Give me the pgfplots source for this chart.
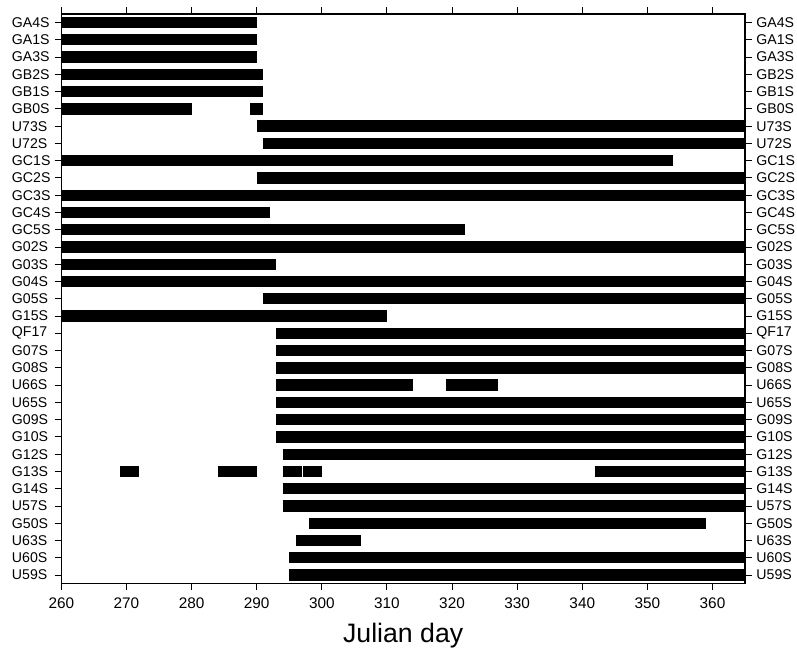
\documentclass[border=0pt]{standalone}
\usepackage{fontspec}
\setmainfont{Liberation Sans}
\usepackage{pgfplots}
\pgfplotsset{compat=1.18}
\begin{document}
\begin{tikzpicture}
\useasboundingbox (-46pt,-52pt) rectangle (551.75pt,437.75pt);
\pgfplotsset{
  common/.style={
    scale only axis,
    width=512.8pt, height=427.3pt,
    xmin=260, xmax=365, ymin=0.5, ymax=33.5,
    y dir=reverse,
    ytick={1,...,33},
    yticklabels={GA4S,GA1S,GA3S,GB2S,GB1S,GB0S,U73S,U72S,GC1S,GC2S,GC3S,GC4S,GC5S,G02S,G03S,G04S,G05S,G15S,QF17,G07S,G08S,U66S,U65S,G09S,G10S,G12S,G13S,G14S,U57S,G50S,U63S,U60S,U59S},
    tick align=outside,
    major tick length=5pt,
    axis line style={line width=1pt},
    tick style={line width=0.7pt, black},
    /pgf/number format/assume math mode=true,
    yticklabel style={font=\fontsize{10.6}{12}\selectfont},
  }
}
\begin{axis}[common,
    xtick={260,270,...,360},
    xtick pos=both,
    xticklabel pos=bottom,
    ytick pos=left,
    yticklabel style={text width=28.5pt, align=left},
    xticklabel style={font=\fontsize{11.5}{13}\selectfont, yshift=-2pt},
    xlabel={Julian day},
    xlabel style={font=\fontsize{20}{24}\selectfont, yshift=-4pt},
    unbounded coords=jump,
]
\addplot[black, line width=8.5pt] coordinates {
(260,1)(290,1)(nan,nan)
(260,2)(290,2)(nan,nan)
(260,3)(290,3)(nan,nan)
(260,4)(291,4)(nan,nan)
(260,5)(291,5)(nan,nan)
(260,6)(280,6)(nan,nan)
(289,6)(291,6)(nan,nan)
(290,7)(365,7)(nan,nan)
(291,8)(365,8)(nan,nan)
(260,9)(354,9)(nan,nan)
(290,10)(365,10)(nan,nan)
(260,11)(365,11)(nan,nan)
(260,12)(292,12)(nan,nan)
(260,13)(322,13)(nan,nan)
(260,14)(365,14)(nan,nan)
(260,15)(293,15)(nan,nan)
(260,16)(365,16)(nan,nan)
(291,17)(365,17)(nan,nan)
(260,18)(310,18)(nan,nan)
(293,19)(365,19)(nan,nan)
(293,20)(365,20)(nan,nan)
(293,21)(365,21)(nan,nan)
(293,22)(314,22)(nan,nan)
(319,22)(327,22)(nan,nan)
(293,23)(365,23)(nan,nan)
(293,24)(365,24)(nan,nan)
(293,25)(365,25)(nan,nan)
(294,26)(365,26)(nan,nan)
(269,27)(272,27)(nan,nan)
(284,27)(290,27)(nan,nan)
(294,27)(297,27)(nan,nan)
(297,27)(300,27)(nan,nan)
(342,27)(365,27)(nan,nan)
(294,28)(365,28)(nan,nan)
(294,29)(365,29)(nan,nan)
(298,30)(359,30)(nan,nan)
(296,31)(306,31)(nan,nan)
(295,32)(365,32)(nan,nan)
(295,33)(365,33)
};
\addplot[white, line width=0.6pt] coordinates {(297,26.66)(297,27.34)};
\end{axis}
\begin{axis}[common,
    xtick=\empty,
    ytick pos=right,
    yticklabel pos=right,
    yticklabel style={anchor=west},
]
\end{axis}
\end{tikzpicture}
\end{document}
